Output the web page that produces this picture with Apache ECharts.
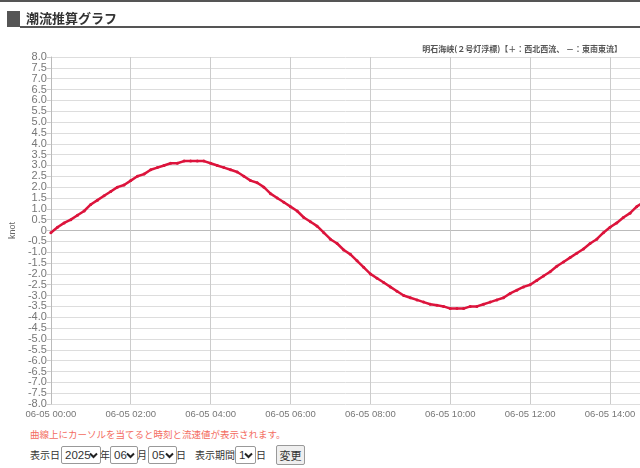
<!DOCTYPE html>
<html>
<head>
<meta charset="utf-8">
<script src="https://cdn.jsdelivr.net/npm/echarts@6/dist/echarts.min.js"></script>
<style>
  html, body { margin:0; padding:0; width:640px; height:468px; overflow:hidden; background:#fff;
    font-family: "Noto Sans CJK JP", "Noto Sans", sans-serif; }
  #topline { position:absolute; left:0; top:0; width:640px; height:2px; background:#555; }
  #block { position:absolute; left:7px; top:11px; width:13px; height:16px; background:#555; }
  #heading { position:absolute; left:26px; top:9px; font-size:13px; font-weight:bold; color:#333; line-height:18px; }
  #underline { position:absolute; left:20px; top:26px; width:620px; height:2px; background:#555; }
  #chart { position:absolute; left:0; top:0; width:640px; height:425px; }
  #note { position:absolute; left:30px; top:427px; font-size:9.5px; color:#f36c5f; line-height:14px; white-space:nowrap; }
  .t { position:absolute; top:447px; font-size:10px; color:#333; line-height:16px; white-space:nowrap; }
  .sel { position:absolute; top:446px; height:16px; border:1px solid #999; border-radius:2px; background:#fff;
    font-family:"Liberation Sans", Arial, sans-serif; font-size:11.5px; line-height:16px; color:#333; padding-left:3px; box-sizing:content-box; }
  .sel svg { position:absolute; right:2px; top:5px; }
  #btn { position:absolute; left:276px; top:445px; width:27px; height:18px; border:1px solid #999; border-radius:2px;
    background:#efefef; font-size:11px; line-height:18px; text-align:center; color:#333; }
</style>
</head>
<body>
<div id="chart"></div>
<div id="topline"></div>
<div id="block"></div>
<div id="heading">潮流推算グラフ</div>
<div id="underline"></div>
<div id="note">曲線上にカーソルを当てると時刻と流速値が表示されます。</div>
<div class="t" style="left:30px">表示日</div>
<div class="sel" style="left:61px;width:35px">2025<svg width="9" height="7" viewBox="0 0 9 7"><path d="M1 1.5 L4.5 5 L8 1.5" stroke="#222" stroke-width="2" fill="none"/></svg></div>
<div class="t" style="left:100px">年</div>
<div class="sel" style="left:110px;width:23px">06<svg width="9" height="7" viewBox="0 0 9 7"><path d="M1 1.5 L4.5 5 L8 1.5" stroke="#222" stroke-width="2" fill="none"/></svg></div>
<div class="t" style="left:137px">月</div>
<div class="sel" style="left:148px;width:24px">05<svg width="9" height="7" viewBox="0 0 9 7"><path d="M1 1.5 L4.5 5 L8 1.5" stroke="#222" stroke-width="2" fill="none"/></svg></div>
<div class="t" style="left:176px">日</div>
<div class="t" style="left:195px">表示期間</div>
<div class="sel" style="left:235px;width:16px">1<svg width="9" height="7" viewBox="0 0 9 7"><path d="M1 1.5 L4.5 5 L8 1.5" stroke="#222" stroke-width="2" fill="none"/></svg></div>
<div class="t" style="left:256px">日</div>
<div id="btn">変更</div>
<script>
// Minutes after 06-05 00:00
var minutes = [0,10,20,30,40,50,60,70,80,90,100,110,120,130,140,150,160,170,180,190,
  200,210,220,230,240,250,260,270,280,290,300,310,320,330,340,350,360,370,380,390,
  400,410,420,430,440,450,460,470,480,490,500,510,520,530,540,550,560,570,580,590,
  600,610,620,630,640,650,660,670,680,690,700,710,720,730,740,750,760,770,780,790,
  800,810,820,830,840,850,860,870,880,890];
// Tidal current speed (knot)
var speeds = [-0.1,0.15,0.35,0.5,0.7,0.9,1.2,1.4,1.6,1.8,2.0,2.1,2.3,2.5,2.6,2.8,2.9,3.0,3.1,3.1,
  3.2,3.2,3.2,3.2,3.1,3.0,2.9,2.8,2.7,2.5,2.3,2.2,2.0,1.7,1.5,1.3,1.1,0.9,0.6,0.4,
  0.2,-0.1,-0.4,-0.6,-0.9,-1.1,-1.4,-1.7,-2.0,-2.2,-2.4,-2.6,-2.8,-3.0,-3.1,-3.2,-3.3,-3.4,-3.45,-3.5,
  -3.6,-3.6,-3.6,-3.5,-3.5,-3.4,-3.3,-3.2,-3.1,-2.9,-2.75,-2.6,-2.5,-2.3,-2.1,-1.9,-1.65,-1.45,-1.25,-1.05,
  -0.85,-0.6,-0.4,-0.1,0.15,0.35,0.6,0.8,1.1,1.3];
var datePrefix = '06-05';
var subtitle = '明石海峡(２号灯浮標)【＋：西北西流、 －：東南東流】';
var axisName = 'knot';

var pts = minutes.map(function(m, i){ return [m, speeds[i]]; });
function pad(n){ return (n < 10 ? '0' : '') + n; }

var chart = echarts.init(document.getElementById('chart'));
chart.setOption({
  animation: false,
  title: {
    text: subtitle, right: 13, top: 40,
    textStyle: { fontSize: 8, fontWeight: 'bold', color: '#555', fontFamily: '"Noto Sans CJK JP", sans-serif' }
  },
  grid: { left: 50, right: 0, top: 57, bottom: 21, containLabel: false },
  xAxis: {
    type: 'value', min: 0, max: 885, interval: 120,
    axisLine: { show: true, lineStyle: { color: '#bbb' } },
    axisTick: { show: true, length: 5, lineStyle: { color: '#ccc' } },
    axisLabel: {
      color: '#777', fontSize: 9.5, margin: 5, showMaxLabel: false,
      fontFamily: '"Liberation Sans", Arial, sans-serif',
      formatter: function(v){ return datePrefix + ' ' + pad(Math.floor(v/60)) + ':' + pad(v%60); }
    },
    splitLine: { show: true, lineStyle: { color: '#ccc', width: 1 } }
  },
  yAxis: {
    type: 'value', min: -8, max: 8, interval: 0.5,
    name: axisName, nameLocation: 'middle', nameGap: 33, nameRotate: 90,
    nameTextStyle: { fontSize: 9, color: '#666', fontFamily: '"Liberation Sans", Arial, sans-serif' },
    axisLine: { show: true, lineStyle: { color: '#bbb' } },
    axisTick: { show: true, length: 4, lineStyle: { color: '#ccc' } },
    axisLabel: {
      color: '#777', fontSize: 11, margin: 4,
      fontFamily: '"Liberation Sans", Arial, sans-serif',
      formatter: function(v){ return v === 0 ? '0' : v.toFixed(1); }
    },
    splitLine: { show: true, lineStyle: { color: '#ddd', width: 1 } }
  },
  series: [{
    type: 'line', data: pts, clip: true,
    lineStyle: { color: '#dc143c', width: 2.5 },
    itemStyle: { color: '#dc143c' },
    symbol: 'circle', symbolSize: 3, showSymbol: true
  }]
});
</script>
</body>
</html>
